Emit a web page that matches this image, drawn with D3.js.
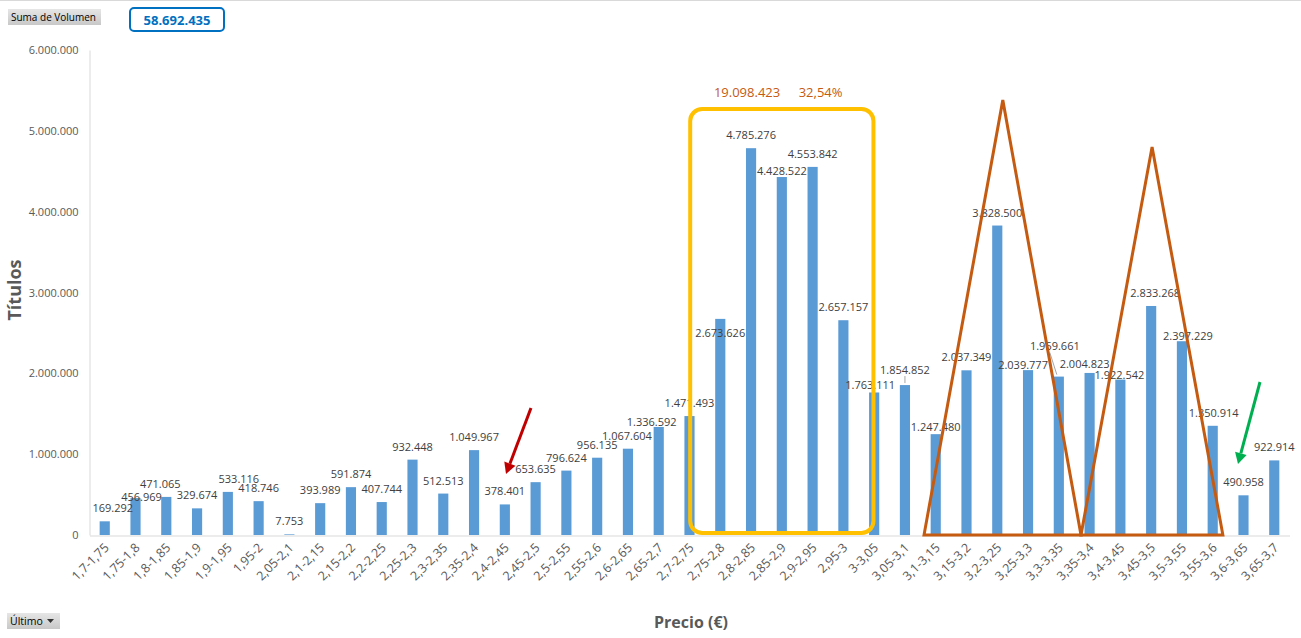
<!doctype html>
<html>
<head>
<meta charset="utf-8">
<script src="https://cdnjs.cloudflare.com/ajax/libs/d3/7.8.5/d3.min.js"></script>
<style>
    body { margin: 0; background: #fff; font-family: "Open Sans", sans-serif; }
    svg text { font-family: "Open Sans", sans-serif; }
</style>
</head>
<body>
<script>
    var categories = [
        "1,7-1,75", "1,75-1,8", "1,8-1,85", "1,85-1,9", "1,9-1,95", "1,95-2", "2,05-2,1",
        "2,1-2,15", "2,15-2,2", "2,2-2,25", "2,25-2,3", "2,3-2,35", "2,35-2,4", "2,4-2,45",
        "2,45-2,5", "2,5-2,55", "2,55-2,6", "2,6-2,65", "2,65-2,7", "2,7-2,75", "2,75-2,8",
        "2,8-2,85", "2,85-2,9", "2,9-2,95", "2,95-3", "3-3,05", "3,05-3,1", "3,1-3,15",
        "3,15-3,2", "3,2-3,25", "3,25-3,3", "3,3-3,35", "3,35-3,4", "3,4-3,45", "3,45-3,5",
        "3,5-3,55", "3,55-3,6", "3,6-3,65", "3,65-3,7"
    ];
    var volumen = [
        169292, 456969, 471065, 329674, 533116, 418746, 7753,
        393989, 591874, 407744, 932448, 512513, 1049967, 378401,
        653635, 796624, 956135, 1067604, 1336592, 1471493, 2673626,
        4785276, 4428522, 4553842, 2657157, 1763111, 1854852, 1247480,
        2037349, 3828500, 2039777, 1959661, 2004823, 1922542, 2833268,
        2397229, 1350914, 490958, 922914
    ];
    var yTicks = [0, 1000000, 2000000, 3000000, 4000000, 5000000, 6000000];
    var totalText = "58.692.435";
    var zoneText = ["19.098.423", "32,54%"];
    var zone = ["2,75-2,8", "2,95-3"];
    // triangle vertices: [category position (index), value]
    var peaks = [
        [[26.62, 0], [29.18, 5380000], [31.72, 0]],
        [[31.72, 0], [34.03, 4800000], [36.33, 0]]
    ];

    // hand moved labels in the original (index -> dx, dy)
    var nudge = {0: [8, 0], 1: [6, 12], 2: [-6, 0], 4: [11, 0],
        17: [-1, 0], 18: [-7, 8], 20: [0, 27], 22: [0, 7], 25: [-4, 6], 26: [0, -2],
        27: [0, 6], 30: [-5, 8], 31: [-4, -18], 32: [-5, 4], 33: [-1, 8],
        34: [4, 0], 35: [6, 8], 36: [1, 0]};

    var W = 1301, H = 638;
    var svg = d3.select("body").append("svg").attr("width", W).attr("height", H);

    var x = d3.scaleBand().domain(categories).range([89.5, 1289.5]).paddingInner(0.67).paddingOuter(0.33);
    var y = d3.scaleLinear().domain([0, 6000000]).range([535, 50]);
    var fmt = d3.formatLocale({decimal: ",", thousands: ".", grouping: [3], currency: ["", "€"]}).format(",d");
    var cx = function(c) { return x(c) + x.bandwidth() / 2; };
    // fractional category index -> pixel
    var xi = d3.scaleLinear().domain([0, categories.length - 1])
        .range([cx(categories[0]), cx(categories[categories.length - 1])]);

    // top border
    svg.append("line").attr("x1", 0).attr("x2", W).attr("y1", 0.5).attr("y2", 0.5)
        .attr("stroke", "#d9d9d9");

    // y axis
    var yAxis = svg.append("g").attr("transform", "translate(89.5,0)")
        .call(d3.axisLeft(y).tickValues(yTicks).tickSize(0).tickPadding(11).tickFormat(fmt));
    yAxis.select(".domain").attr("stroke", "#d9d9d9");
    yAxis.selectAll("text").attr("fill", "#595959").style("font-size", "11px");

    // bars
    svg.selectAll("rect.bar").data(volumen).enter().append("rect")
        .attr("class", "bar")
        .attr("x", function(d, i) { return x(categories[i]); })
        .attr("width", x.bandwidth())
        .attr("y", function(d) { return y(d); })
        .attr("height", function(d) { return y(0) - y(d); })
        .attr("fill", "#5B9BD5");

    // x axis
    var xAxis = svg.append("g").attr("transform", "translate(0,535.5)")
        .call(d3.axisBottom(x).tickSize(0).tickPadding(0));
    xAxis.select(".domain").attr("stroke", "#d9d9d9");
    xAxis.selectAll("text")
        .attr("fill", "#595959").style("font-size", "12.5px")
        .attr("text-anchor", "end")
        .attr("dy", 0)
        .attr("transform", "translate(5,13) rotate(-45)");

    // data labels
    svg.selectAll("text.lbl").data(volumen).enter().append("text")
        .attr("class", "lbl")
        .attr("x", function(d, i) { return cx(categories[i]) + (nudge[i] ? nudge[i][0] : 0); })
        .attr("y", function(d, i) { return y(d) - 9 + (nudge[i] ? nudge[i][1] : 0); })
        .attr("text-anchor", "middle")
        .attr("fill", "#404040").style("font-size", "11px")
        .text(function(d) { return fmt(d); });

    // leader lines
    var c31 = cx(categories[31]);
    svg.append("line").attr("x1", c31 - 9).attr("y1", y(volumen[31]) - 24)
        .attr("x2", c31 - 2).attr("y2", y(volumen[31]) - 2).attr("stroke", "#a6a6a6");
    svg.append("line").attr("x1", cx(categories[26])).attr("x2", cx(categories[26]))
        .attr("y1", y(volumen[26]) - 9).attr("y2", y(volumen[26]) - 2).attr("stroke", "#a6a6a6");

    // highlighted zone
    var zx0 = x(zone[0]) - 25, zx1 = x(zone[1]) + x.bandwidth() + 25;
    svg.append("rect").attr("x", zx0).attr("y", 109).attr("width", zx1 - zx0).attr("height", 424)
        .attr("rx", 12).attr("fill", "none").attr("stroke", "#FFC000").attr("stroke-width", 4);
    svg.append("text").attr("x", cx(categories[21]) - 4).attr("y", 97).attr("text-anchor", "middle")
        .attr("fill", "#C55A11").style("font-size", "13px").text(zoneText[0]);
    svg.append("text").attr("x", cx(categories[23]) + 8).attr("y", 97).attr("text-anchor", "middle")
        .attr("fill", "#C55A11").style("font-size", "13px").text(zoneText[1]);

    // triangles
    var tri = d3.line().x(function(p) { return xi(p[0]); }).y(function(p) { return y(p[1]); });
    peaks.forEach(function(t) {
        svg.append("path").attr("d", tri(t) + "Z")
            .attr("fill", "none").attr("stroke", "#C55A11").attr("stroke-width", 3)
            .attr("stroke-linejoin", "miter");
    });

    // arrows
    function arrow(x1, y1, x2, y2, col) {
        var a = Math.atan2(y2 - y1, x2 - x1), L = 11, w = 6;
        var bx = x2 - L * Math.cos(a), by = y2 - L * Math.sin(a);
        svg.append("line").attr("x1", x1).attr("y1", y1).attr("x2", bx).attr("y2", by)
            .attr("stroke", col).attr("stroke-width", 3);
        svg.append("path").attr("fill", col)
            .attr("d", "M" + x2 + "," + y2 + "L" + (bx + w * Math.sin(a)) + "," + (by - w * Math.cos(a)) +
                "L" + (bx - w * Math.sin(a)) + "," + (by + w * Math.cos(a)) + "Z");
    }
    arrow(531, 408, 506, 474, "#C00000");
    arrow(1260, 382, 1238, 464, "#00B050");

    // axis titles
    svg.append("text").attr("transform", "translate(21,290) rotate(-90)").attr("text-anchor", "middle")
        .attr("fill", "#595959").style("font-size", "18px").style("font-weight", "bold").text("Títulos");
    svg.append("text").attr("x", 691).attr("y", 628).attr("text-anchor", "middle")
        .attr("fill", "#595959").style("font-size", "16px").style("font-weight", "bold").text("Precio (€)");

    // pivot buttons
    var grad = svg.append("defs").append("linearGradient").attr("id", "btn").attr("x1", 0).attr("x2", 0).attr("y1", 0).attr("y2", 1);
    grad.append("stop").attr("offset", 0).attr("stop-color", "#e6e6e6");
    grad.append("stop").attr("offset", 1).attr("stop-color", "#c8c8c8");
    svg.append("rect").attr("x", 8).attr("y", 9).attr("width", 93).attr("height", 16).attr("fill", "url(#btn)");
    svg.append("text").attr("x", 11).attr("y", 21).attr("fill", "#000").style("font-size", "10px").text("Suma de Volumen");
    svg.append("rect").attr("x", 7).attr("y", 613).attr("width", 53).attr("height", 16).attr("fill", "url(#btn)");
    svg.append("text").attr("x", 10).attr("y", 625).attr("fill", "#000").style("font-size", "10.5px").text("Último");
    svg.append("path").attr("d", "M47,619L54,619L50.5,623Z").attr("fill", "#333");

    // total box
    svg.append("rect").attr("x", 130).attr("y", 8).attr("width", 94).attr("height", 23).attr("rx", 4)
        .attr("fill", "#fff").attr("stroke", "#0070C0").attr("stroke-width", 2);
    svg.append("text").attr("x", 177).attr("y", 24.5).attr("text-anchor", "middle")
        .attr("fill", "#0070C0").style("font-size", "13px").style("font-weight", "bold").text(totalText);
</script>
</body>
</html>
